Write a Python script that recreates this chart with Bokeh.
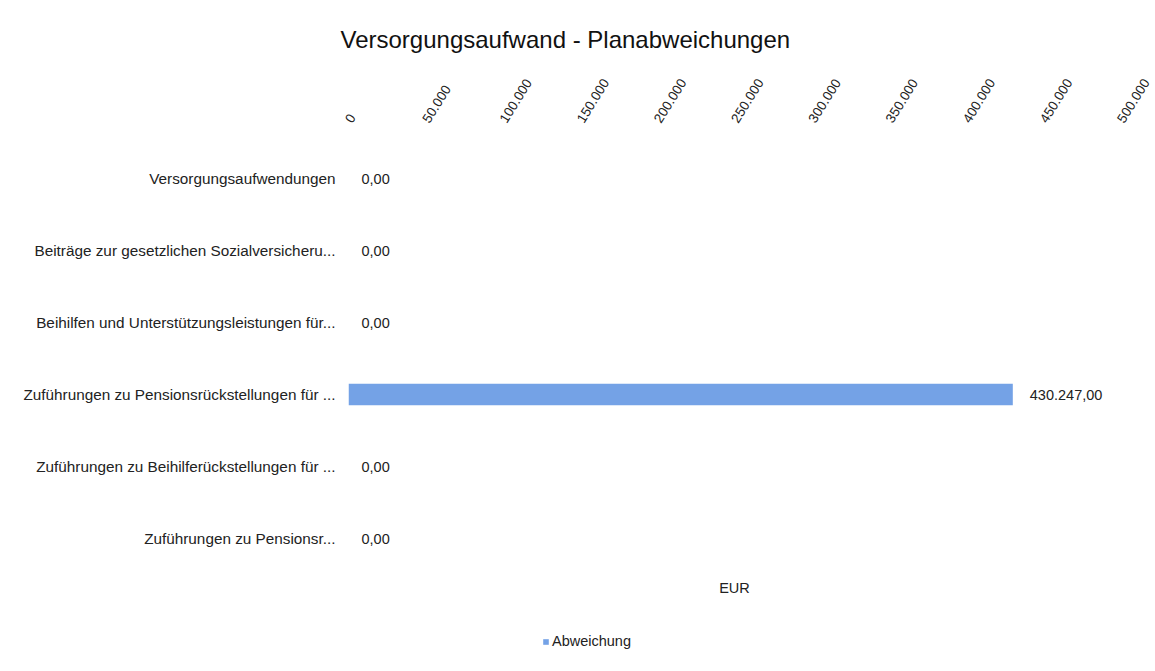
import math
from bokeh.plotting import figure
from bokeh.models import (Range1d, LinearAxis, FixedTicker, Legend,
                          LegendItem, ColumnDataSource, Label)
from bokeh.core.properties import value
from bokeh.embed import file_html
from bokeh.resources import INLINE

categories = [
    "Versorgungsaufwendungen",
    "Beiträge zur gesetzlichen Sozialversicheru...",
    "Beihilfen und Unterstützungsleistungen für...",
    "Zuführungen zu Pensionsrückstellungen für ...",
    "Zuführungen zu Beihilferückstellungen für ...",
    "Zuführungen zu Pensionsr...",
]
values = [0, 0, 0, 430247, 0, 0]
value_labels = ["0,00", "0,00", "0,00", "430.247,00", "0,00", "0,00"]
tick_values = [0, 50000, 100000, 150000, 200000, 250000, 300000, 350000, 400000, 450000, 500000]
tick_labels = ["0", "50.000", "100.000", "150.000", "200.000", "250.000",
               "300.000", "350.000", "400.000", "450.000", "500.000"]
x_min, x_max = 0, 500000

FONT = "Liberation Sans"
TXT = "#222222"

n = len(categories)
ypos = [n - 1 - i for i in range(n)]

# layout constants (pixels)
W, H = 1152, 663
FRAME_L, FRAME_R, FRAME_T = 348, 1120, 142
ROW_PX = 72.0
frame_h = H - FRAME_T
y_top = n - 0.5
y_bottom = y_top - frame_h / ROW_PX

src = ColumnDataSource(dict(
    y=ypos, val=values, lbl=value_labels,
    off=[17 if v > 0 else 13 for v in values],
))

p = figure(width=W, height=H,
           y_range=Range1d(y_bottom, y_top),
           x_range=Range1d(x_min, x_max),
           x_axis_location="above",
           output_backend="svg", toolbar_location=None,
           min_border_left=FRAME_L, min_border_right=W - FRAME_R,
           min_border_top=FRAME_T, min_border_bottom=0)

p.title.text = "Versorgungsaufwand - Planabweichungen"
p.title.text_font = FONT
p.title.text_font_size = "24px"
p.title.text_font_style = "normal"
p.title.text_color = "#111111"
p.title.align = "left"
p.title.offset = -8
p.title.standoff = 40

p.outline_line_color = None
p.xgrid.grid_line_color = None
p.ygrid.grid_line_color = None

bars = p.hbar(y="y", right="val", left=0, height=0.3, source=src,
              fill_color="#74a2e6", line_color=None)

p.text(x="val", y="y", text="lbl", x_offset="off", source=src,
       text_baseline="middle", text_align="left",
       text_font=value(FONT), text_font_size="14.5px", text_color=TXT)

xa = p.xaxis[0]
xa.ticker = FixedTicker(ticks=tick_values)
xa.major_label_overrides = {t: l for t, l in zip(tick_values, tick_labels)}
xa.major_label_orientation = math.radians(58)
xa.major_label_text_font = FONT
xa.major_label_text_font_size = "13.5px"
xa.major_label_text_color = TXT
xa.axis_line_color = None
xa.major_tick_line_color = None
xa.minor_tick_line_color = None
xa.major_label_standoff = 15

ya = p.yaxis[0]
ya.ticker = FixedTicker(ticks=ypos)
ya.major_label_overrides = {yy: c for yy, c in zip(ypos, categories)}
ya.major_label_text_font = FONT
ya.major_label_text_font_size = "15.3px"
ya.major_label_text_color = TXT
ya.axis_line_color = None
ya.major_tick_line_color = None
ya.minor_tick_line_color = None
ya.major_label_standoff = 7

# axis title "EUR" below the rows
eur_y = y_top - (587 - FRAME_T) / ROW_PX
p.add_layout(Label(x=(x_min + x_max) / 2, y=eur_y, text="EUR",
                   text_align="center", text_baseline="middle",
                   text_font=FONT, text_font_size="14.5px", text_color=TXT))

legend = Legend(items=[LegendItem(label="Abweichung", renderers=[bars])],
                location=(194, 14), orientation="horizontal",
                glyph_width=7, glyph_height=7, padding=0, margin=0,
                label_standoff=3, border_line_color=None,
                background_fill_alpha=0,
                label_text_font=FONT, label_text_font_size="14.5px",
                label_text_color=TXT)
p.add_layout(legend, "center")

open("out.html", "w").write(file_html(p, INLINE))
